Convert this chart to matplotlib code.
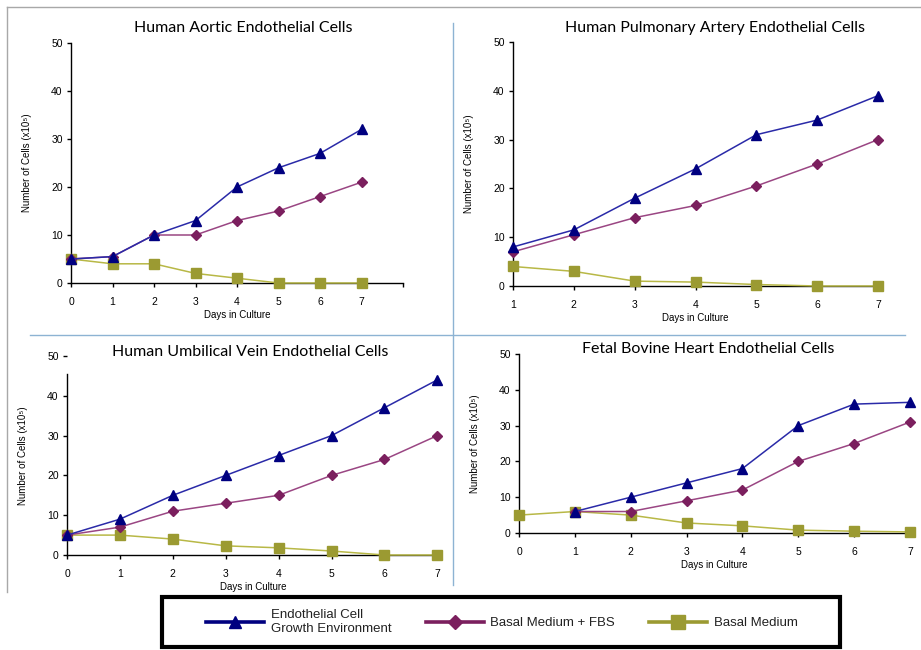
import matplotlib
matplotlib.use("Agg")
import matplotlib.pyplot as plt
import numpy as np
from matplotlib.lines import Line2D
from matplotlib.patches import Rectangle

# ---------------- data ----------------
titles = ["Human Aortic Endothelial Cells",
          "Human Pulmonary Artery Endothelial Cells",
          "Human Umbilical Vein Endothelial Cells",
          "Fetal Bovine Heart Endothelial Cells"]
series_names = ["Endothelial Cell\nGrowth Environment", "Basal Medium + FBS", "Basal Medium"]

days_haec = [0, 1, 2, 3, 4, 5, 6, 7]
haec_ecge = [5, 5.5, 10, 13, 20, 24, 27, 32]
haec_fbs = [5, 5.5, 10, 10, 13, 15, 18, 21]
haec_basal = [5, 4, 4, 2, 1, 0, 0, 0]

days_hpaec = [1, 2, 3, 4, 5, 6, 7]
hpaec_ecge = [8, 11.5, 18, 24, 31, 34, 39]
hpaec_fbs = [7, 10.5, 14, 16.5, 20.5, 25, 30]
hpaec_basal = [4, 3, 1, 0.8, 0.3, 0, 0]

days_huvec = [0, 1, 2, 3, 4, 5, 6, 7]
huvec_ecge = [5, 9, 15, 20, 25, 30, 37, 44]
huvec_fbs = [5, 7, 11, 13, 15, 20, 24, 30]
huvec_basal = [5, 5, 4, 2.3, 1.8, 1, 0, 0]

days_fbhec = [0, 1, 2, 3, 4, 5, 6, 7]
fbhec_ecge = [np.nan, 6, 10, 14, 18, 30, 36, 36.5]
fbhec_fbs = [np.nan, 6, 6, 9, 12, 20, 25, 31]
fbhec_basal = [5, 6, 5, 2.8, 2, 0.8, 0.5, 0.3]

y_ticks = [0, 10, 20, 30, 40, 50]

# ---------------- style ----------------
W, H = 921, 650
fig = plt.figure(figsize=(W / 100, H / 100), dpi=100)

def fx(px):
    return px / W

def fy(py):
    return 1 - py / H

line_cols = ["#2a2aa8", "#9a4683", "#b8b846"]
mark_cols = ["#000080", "#7b1f5e", "#9b9a32"]
markers = ["^", "D", "s"]
msizes = [6.5, 5.5, 7.5]

tick_font = dict(family=["Liberation Sans Narrow", "Liberation Sans", "DejaVu Sans"], size=7.5)
label_font = dict(family=["Liberation Sans", "DejaVu Sans"], size=7)
title_font = dict(family=["Lato", "DejaVu Sans"], size=11.5)

# axes boxes in pixels: left, right, top, bottom
boxes = [(71, 403, 43, 283), (513, 878, 42, 286), (67, 440, 356, 555), (519, 910, 354, 533)]
xlims = [(0, 8), (1, 7), (0, 7.05), (0, 7.0)]
title_pos = [(243, 28), (715, 28), (250, 352), (708, 349)]
datasets = [
    (days_haec, [haec_ecge, haec_fbs, haec_basal]),
    (days_hpaec, [hpaec_ecge, hpaec_fbs, hpaec_basal]),
    (days_huvec, [huvec_ecge, huvec_fbs, huvec_basal]),
    (days_fbhec, [fbhec_ecge, fbhec_fbs, fbhec_basal]),
]

for i, (box, xl, (days, ys)) in enumerate(zip(boxes, xlims, datasets)):
    l, r, t, b = box
    ax = fig.add_axes([fx(l), fy(b), fx(r - l), fy(t) - fy(b)])
    for j in range(3):
        ax.plot(days, ys[j], color=line_cols[j], lw=1.1, marker=markers[j],
                ms=msizes[j], mfc=mark_cols[j], mec=mark_cols[j], clip_on=False, zorder=3 + (2 - j))
    ax.set_xlim(*xl)
    ax.set_ylim(0, 50)
    for s in ["top", "right"]:
        ax.spines[s].set_visible(False)
    for s in ["left", "bottom"]:
        ax.spines[s].set_linewidth(1.0)
        ax.spines[s].set_color("black")
    if i == 2:
        ax.spines["left"].set_bounds(0, 45.5)
    if i == 0:
        ax.set_xticks(range(0, 9))
        ax.set_xticklabels([str(d) for d in range(0, 8)] + [""])
    else:
        ax.set_xticks(days)
        ax.set_xticklabels([str(d) for d in days])
    ax.set_yticks(y_ticks)
    ax.set_yticklabels([str(v) for v in y_ticks])
    ax.tick_params(axis="both", direction="out", length=3, width=1, pad=3)
    ax.tick_params(axis="x", pad=7)
    for lab in ax.get_xticklabels() + ax.get_yticklabels():
        lab.set_fontfamily(tick_font["family"])
        lab.set_fontsize(tick_font["size"])
    ax.set_xlabel("Days in Culture", fontdict=label_font, labelpad=2)
    ax.set_ylabel("Number of Cells (x10\u2075)", fontdict=label_font, labelpad=14)
    ax.patch.set_alpha(0)
    tx, ty = title_pos[i]
    fig.text(fx(tx), fy(ty), titles[i], ha="center", va="center", **title_font)

# divider lines and outer frame
div_col = "#8db3d3"
fig.add_artist(Line2D([fx(453), fx(453)], [fy(23), fy(585)], color=div_col, lw=1))
fig.add_artist(Line2D([fx(30), fx(905)], [fy(335), fy(335)], color=div_col, lw=1))
frame_col = "#a8a8a8"
fig.add_artist(Line2D([fx(7), fx(921)], [fy(7), fy(7)], color=frame_col, lw=1))
fig.add_artist(Line2D([fx(7), fx(7)], [fy(7), fy(592)], color=frame_col, lw=1))

# legend box
fig.add_artist(Rectangle((fx(162), fy(647)), fx(840 - 162), fy(597) - fy(647),
                         fill=False, edgecolor="black", lw=3, transform=fig.transFigure))
leg_handles = [Line2D([], [], color=mark_cols[j], lw=2.6, marker=markers[j],
                      ms=msizes[j] * 1.3, mfc=mark_cols[j], mec=mark_cols[j]) for j in range(3)]
leg = fig.legend(leg_handles, series_names, loc="center", ncol=3,
                 bbox_to_anchor=(fx(502), fy(622)),
                 frameon=False, handlelength=4.4, columnspacing=2.6,
                 handletextpad=0.5, borderaxespad=0, borderpad=0,
                 prop=dict(family=["Liberation Sans", "DejaVu Sans"], size=9.5))
for txt in leg.get_texts():
    txt.set_color("#222222")

fig.savefig("out.png", dpi=100)
